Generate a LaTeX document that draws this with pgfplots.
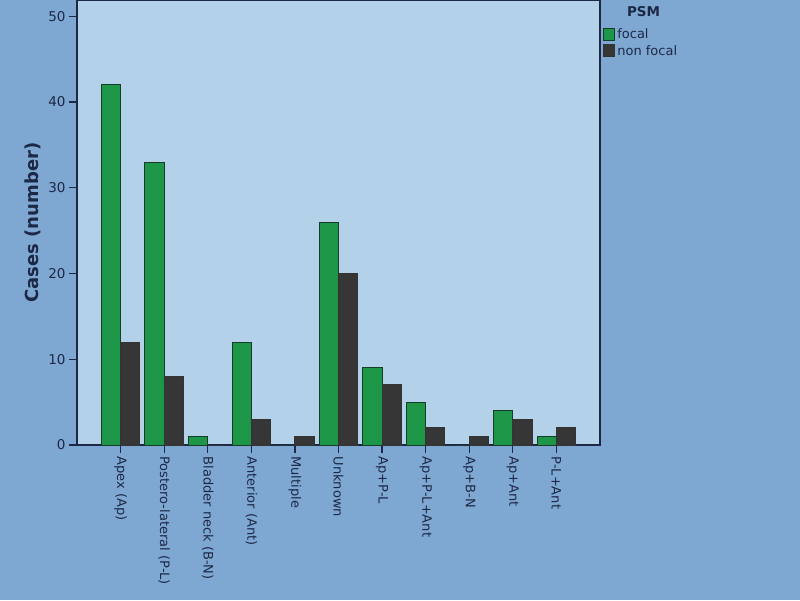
\documentclass[border=0pt]{standalone}
\usepackage{pgfplots}
\pgfplotsset{compat=1.18}
\usepackage{fontspec}
\setmainfont{DejaVu Sans}
\definecolor{outerbg}{RGB}{126,168,210}
\definecolor{plotbg}{RGB}{180,209,234}
\definecolor{focal}{RGB}{30,150,72}
\definecolor{focaledge}{RGB}{20,60,40}
\definecolor{nonfocal}{RGB}{54,54,54}
\definecolor{txt}{RGB}{28,40,70}
\begin{document}
\begin{tikzpicture}
\useasboundingbox (-77pt,-155pt) rectangle (723pt,445pt);
\fill[outerbg] (-77pt,-155pt) rectangle (723pt,445pt);
\clip (-77pt,-155pt) rectangle (723pt,445pt);
\begin{axis}[
  at={(0pt,0pt)}, anchor=south west, scale only axis,
  width=523pt, height=445pt,
  xmin=-1, xmax=11, ymin=0, ymax=51.9,
  axis background/.style={fill=plotbg},
  axis line style={txt, line width=1.3pt},
  ybar, bar width=0.44,
  xtick={0,...,10},
  xticklabels={Apex (Ap),Postero-lateral (P-L),Bladder neck (B-N),Anterior (Ant),Multiple,Unknown,Ap+P-L,Ap+P-L+Ant,Ap+B-N,Ap+Ant,P-L+Ant},
  xticklabel style={rotate=-90, anchor=west, font=\fontsize{13}{15}\selectfont, text=txt},
  ytick={0,10,20,30,40,50},
  yticklabel style={font=\fontsize{13.5}{15}\selectfont, text=txt},
  /pgf/number format/assume math mode=true,
  tick align=outside, major tick length=8pt,
  tick style={txt, line width=1.3pt},
  xtick pos=bottom, ytick pos=left,
  ylabel={Cases (number)},
  every axis y label/.style={at={(rel axis cs:0,0.5)}, xshift=-44pt, rotate=90, anchor=center,
     font=\fontsize{18}{20}\selectfont\bfseries, text=txt},
  clip=false,
  legend style={at={(rel axis cs:1.006,0.94)}, anchor=north west, draw=none, fill=none,
    font=\fontsize{13}{15}\selectfont, text=txt, row sep=1pt, inner sep=0pt},
  legend cell align=left,
  legend image code/.code={\draw[#1, line width=1pt] (0pt,-6pt) rectangle (11pt,6pt);},
]
\addplot[fill=focal, draw=focaledge, line width=1pt, bar shift=-0.22] coordinates {
 (0,42) (1,33) (2,1) (3,12) (4,0) (5,26) (6,9) (7,5) (8,0) (9,4) (10,1)};
\addplot[fill=nonfocal, draw=black!80, line width=1pt, bar shift=0.22] coordinates {
 (0,12) (1,8) (2,0) (3,3) (4,1) (5,20) (6,7) (7,2) (8,1) (9,3) (10,2)};
\legend{focal,non focal}
\node[anchor=west, text=txt, font=\fontsize{13.5}{15}\selectfont\bfseries] at (rel axis cs:1.045,0.973) {PSM};
\end{axis}
\end{tikzpicture}
\end{document}
